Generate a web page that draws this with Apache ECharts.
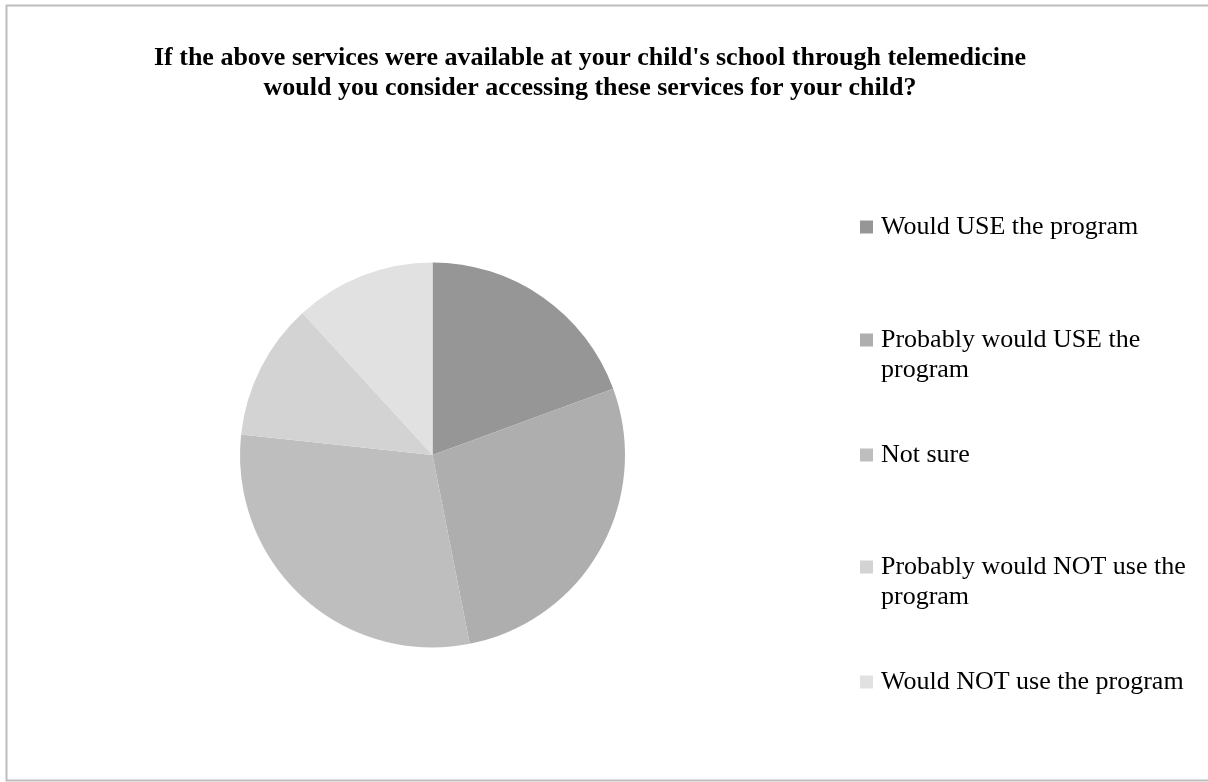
<!DOCTYPE html>
<html>
<head>
<meta charset="utf-8">
<script src="https://cdn.jsdelivr.net/npm/echarts@6/dist/echarts.min.js"></script>
<style>
html,body{margin:0;padding:0;background:#fff;}
#chart{width:1208px;height:782px;}
</style>
</head>
<body>
<div id="chart"></div>
<script>
const titleText = "If the above services were available at your child's school through telemedicine\nwould you consider accessing these services for your child?";
const categories = [
  "Would USE the program",
  "Probably would USE the program",
  "Not sure",
  "Probably would NOT use the program",
  "Would NOT use the program"
];
const legendLabels = [
  "Would USE the program",
  "Probably would USE the\nprogram",
  "Not sure",
  "Probably would NOT use the\nprogram",
  "Would NOT use the program"
];
const values = [19.4, 27.5, 29.8, 11.5, 11.8];
const colors = ["#969696", "#aeaeae", "#bebebe", "#d3d3d3", "#e1e1e1"];

const FONT = "'Liberation Serif', 'Times New Roman', serif";
const LH = 30;
const legendFirstLineCenters = [227, 340, 455, 567, 682];

const legends = categories.map((name, i) => {
  const lines = legendLabels[i].split("\n");
  const twoLine = lines.length > 1;
  // a leading blank line keeps the marker level with the first text line
  const label = (twoLine ? "\n" : "") + lines.map(l => "{t|" + l + "}").join("\n");
  const boxH = twoLine ? LH * 3 : LH;
  return {
    data: [name],
    orient: 'vertical',
    left: 860,
    top: legendFirstLineCenters[i] - boxH / 2,
    icon: 'rect',
    itemWidth: 13,
    itemHeight: 13,
    itemGap: 0,
    padding: 0,
    selectedMode: false,
    formatter: () => label,
    textStyle: {
      fontFamily: FONT,
      fontSize: 26,
      lineHeight: LH,
      color: '#000',
      rich: {
        t: {
          fontFamily: FONT,
          fontSize: 26,
          lineHeight: LH,
          color: '#000',
          padding: [0, 0, 0, 3]
        }
      }
    }
  };
});

const chart = echarts.init(document.getElementById('chart'), null, {renderer: 'canvas'});
chart.setOption({
  animation: false,
  backgroundColor: '#fff',
  color: colors,
  title: {
    text: titleText,
    left: 590,
    textAlign: 'center',
    top: 43,
    padding: 0,
    textStyle: {
      fontFamily: FONT,
      fontWeight: 'bold',
      fontSize: 26,
      lineHeight: 30,
      color: '#000'
    }
  },
  legend: legends,
  graphic: [{
    type: 'rect',
    shape: {x: 6.5, y: 5.5, width: 1210, height: 775},
    style: {fill: 'none', stroke: '#bebebe', lineWidth: 2},
    silent: true
  }],
  series: [{
    type: 'pie',
    center: [432.5, 455],
    radius: 192.5,
    startAngle: 90,
    clockwise: true,
    label: {show: false},
    labelLine: {show: false},
    emphasis: {disabled: true},
    itemStyle: {borderWidth: 0},
    data: categories.map((name, i) => ({name: name, value: values[i]}))
  }]
});
</script>
</body>
</html>
